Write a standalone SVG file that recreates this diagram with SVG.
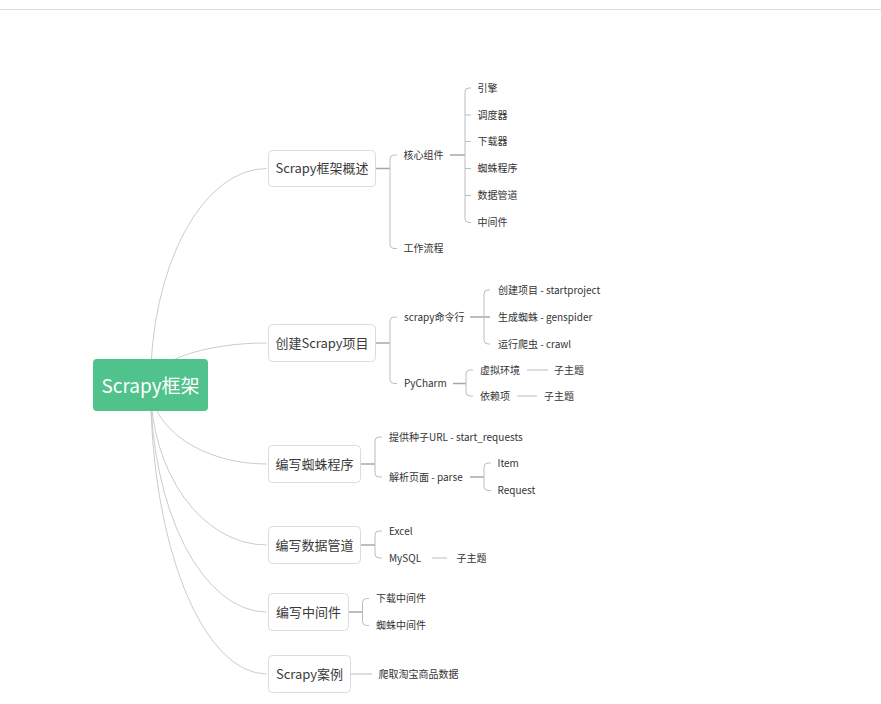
<svg xmlns="http://www.w3.org/2000/svg" width="881" height="704" viewBox="0 0 881 704">
<style>
  text { font-family: "Noto Sans CJK SC", "Liberation Sans", sans-serif; dominant-baseline: central; fill: #333; }
  .root text { fill: #fff; font-size: 19px; text-anchor: middle; }
  .l1 rect { fill: #fff; stroke: #dcdcdc; stroke-width: 1; }
  .l1 text { font-size: 13px; text-anchor: middle; fill: #3a3a3a; }
  .sub text { font-size: 10px; }
  .arc { fill: none; stroke: #cccccc; stroke-width: 1; }
  .pl { fill: none; stroke: #a8a8a8; stroke-width: 1.5; }
  .br { fill: none; stroke: #bdbdbd; stroke-width: 1; }
</style>
<rect x="0" y="0" width="881" height="704" fill="#fff"/>
<line x1="0" y1="9.5" x2="881" y2="9.5" stroke="#dedede" stroke-width="1"/>

<g id="connectors">
  <path class="arc" d="M150.5 385 A116.2 216.5 0 0 1 266.7 168.5"/>
  <path class="arc" d="M150.5 385 A116.2 42 0 0 1 266.7 343"/>
  <path class="arc" d="M150.5 385 A116.2 79 0 0 0 266.7 464"/>
  <path class="arc" d="M150.5 385 A116.2 160 0 0 0 266.7 545"/>
  <path class="arc" d="M150.5 385 A116.2 227 0 0 0 266.7 612"/>
  <path class="arc" d="M150.5 385 A116.2 289 0 0 0 266.7 674"/>

  <!-- group 1 -->
  <path class="pl" d="M375.5 168.5 H390"/>
  <path class="br" d="M397 155 H394 Q390 155 390 159 V244.5 Q390 248.5 394 248.5 H397"/>
  <path class="pl" d="M450 155 H465"/>
  <path class="br" d="M471 88 H469 Q465 88 465 92 V218.5 Q465 222.5 469 222.5 H471 M465 115 H471 M465 141.5 H471 M465 168.5 H471 M465 195.5 H471"/>

  <!-- group 2 -->
  <path class="pl" d="M375.5 343 H390"/>
  <path class="br" d="M397 317 H394 Q390 317 390 321 V379.5 Q390 383.5 394 383.5 H397"/>
  <path class="pl" d="M470 317 H490"/>
  <path class="br" d="M490 290 H488 Q484 290 484 294 V340 Q484 344 488 344 H490"/>
  <path class="pl" d="M453 383.5 H466"/>
  <path class="br" d="M473 370 H470 Q466 370 466 374 V392 Q466 396 470 396 H473"/>
  <path class="br" d="M527 370 H548"/>
  <path class="br" d="M517 396 H537"/>

  <!-- group 3 -->
  <path class="pl" d="M360.5 464 H375"/>
  <path class="br" d="M382 437 H379 Q375 437 375 441 V473 Q375 477 379 477 H382"/>
  <path class="pl" d="M470 477 H484"/>
  <path class="br" d="M491 463 H488 Q484 463 484 467 V486.5 Q484 490.5 488 490.5 H491"/>

  <!-- group 4 -->
  <path class="pl" d="M360.5 545 H375"/>
  <path class="br" d="M382 531 H379 Q375 531 375 535 V554 Q375 558 379 558 H382"/>
  <path class="br" d="M432 558 H447"/>

  <!-- group 5 -->
  <path class="pl" d="M348.5 612 H362.5"/>
  <path class="br" d="M369 598.5 H366.5 Q362.5 598.5 362.5 602.5 V621.5 Q362.5 625.5 366.5 625.5 H369"/>

  <!-- group 6 -->
  <path class="br" d="M351 674 H372"/>
</g>

<g id="root" class="root">
  <rect x="93" y="359" width="115" height="52" rx="4" fill="#50c28b"/>
  <text x="150.5" y="384.5">Scrapy框架</text>
</g>

<g id="n-overview" class="l1">
  <rect x="268.5" y="150.5" width="107" height="36" rx="4"/>
  <text x="322" y="167.5">Scrapy框架概述</text>
</g>
<g id="n-create" class="l1">
  <rect x="268.5" y="324.5" width="107" height="37" rx="4"/>
  <text x="322" y="342">创建Scrapy项目</text>
</g>
<g id="n-spider" class="l1">
  <rect x="268.5" y="445.5" width="92" height="37" rx="4"/>
  <text x="314.5" y="463">编写蜘蛛程序</text>
</g>
<g id="n-pipeline" class="l1">
  <rect x="268.5" y="526.5" width="92" height="37" rx="4"/>
  <text x="314.5" y="544">编写数据管道</text>
</g>
<g id="n-middleware" class="l1">
  <rect x="268.5" y="593.5" width="80" height="37" rx="4"/>
  <text x="308.5" y="611">编写中间件</text>
</g>
<g id="n-case" class="l1">
  <rect x="268.5" y="655.5" width="82" height="37" rx="4"/>
  <text x="309.5" y="673">Scrapy案例</text>
</g>

<g id="n-core" class="sub"><text x="403.5" y="154">核心组件</text></g>
<g id="n-engine" class="sub"><text x="477.5" y="87">引擎</text></g>
<g id="n-scheduler" class="sub"><text x="477.5" y="114">调度器</text></g>
<g id="n-downloader" class="sub"><text x="477.5" y="140.5">下载器</text></g>
<g id="n-spiders" class="sub"><text x="477.5" y="167.5">蜘蛛程序</text></g>
<g id="n-pipelines" class="sub"><text x="477.5" y="194.5">数据管道</text></g>
<g id="n-mw" class="sub"><text x="477.5" y="221.5">中间件</text></g>
<g id="n-flow" class="sub"><text x="403.5" y="247.5">工作流程</text></g>

<g id="n-cmd" class="sub"><text x="404" y="316">scrapy命令行</text></g>
<g id="n-startproject" class="sub"><text x="498" y="289">创建项目 - startproject</text></g>
<g id="n-genspider" class="sub"><text x="498" y="316">生成蜘蛛 - genspider</text></g>
<g id="n-crawl" class="sub"><text x="498" y="343">运行爬虫 - crawl</text></g>
<g id="n-pycharm" class="sub"><text x="404" y="382.5">PyCharm</text></g>
<g id="n-venv" class="sub"><text x="480" y="369">虚拟环境</text></g>
<g id="n-venv-sub" class="sub"><text x="554" y="369">子主题</text></g>
<g id="n-deps" class="sub"><text x="480" y="395">依赖项</text></g>
<g id="n-deps-sub" class="sub"><text x="544" y="395">子主题</text></g>

<g id="n-start-req" class="sub"><text x="389" y="436">提供种子URL - start_requests</text></g>
<g id="n-parse" class="sub"><text x="389" y="476">解析页面 - parse</text></g>
<g id="n-item" class="sub"><text x="497.5" y="462">Item</text></g>
<g id="n-request" class="sub"><text x="497.5" y="489.5">Request</text></g>

<g id="n-excel" class="sub"><text x="389" y="530">Excel</text></g>
<g id="n-mysql" class="sub"><text x="389" y="557">MySQL</text></g>
<g id="n-mysql-sub" class="sub"><text x="456.5" y="557">子主题</text></g>

<g id="n-dl-mw" class="sub"><text x="376" y="597.5">下载中间件</text></g>
<g id="n-sp-mw" class="sub"><text x="376" y="624.5">蜘蛛中间件</text></g>

<g id="n-taobao" class="sub"><text x="378.5" y="673">爬取淘宝商品数据</text></g>
</svg>
